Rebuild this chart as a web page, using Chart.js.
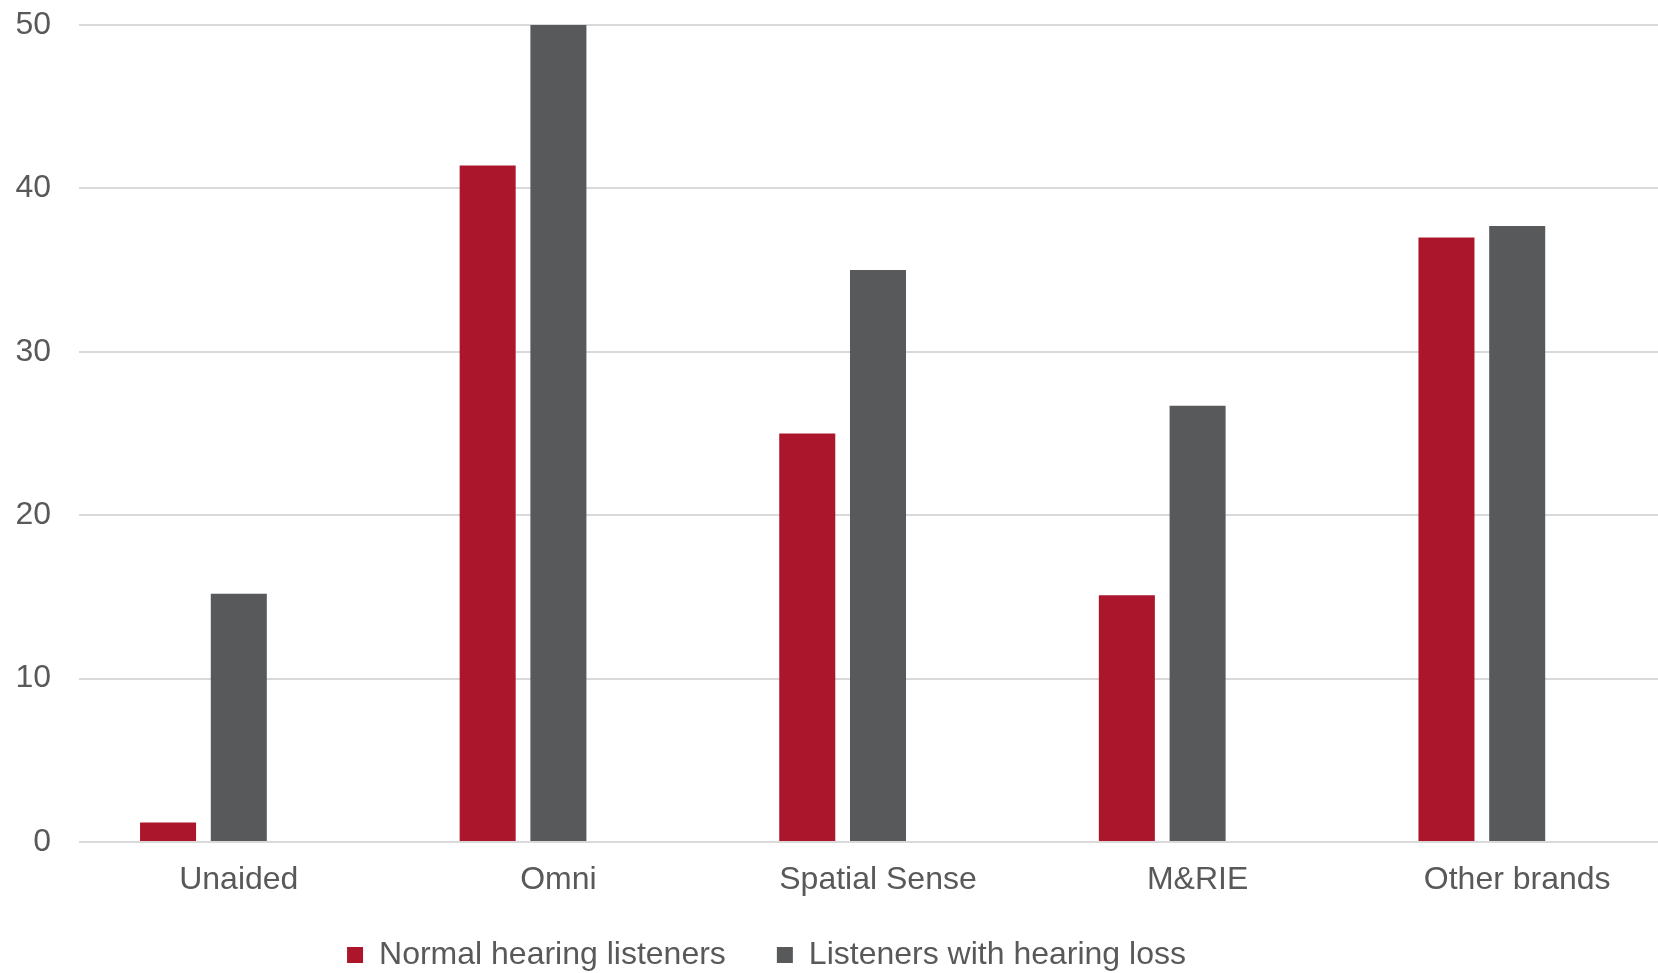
<!DOCTYPE html>
<html>
<head>
<meta charset="utf-8">
<script src="https://cdn.jsdelivr.net/npm/chart.js@4"></script>
<style>
  html, body { margin: 0; padding: 0; background: #fff; overflow: hidden; }
  canvas { display: block; }
</style>
</head>
<body>
<canvas id="grafico" width="1677" height="973"></canvas>
<script>
// Dados
const categorias = ['Unaided', 'Omni', 'Spatial Sense', 'M&RIE', 'Other brands'];
const normalHearing = [1.2, 41.4, 25.0, 15.1, 37.0];
const hearingLoss = [15.2, 50.0, 35.0, 26.7, 37.7];
const nomesSeries = ['Normal hearing listeners', 'Listeners with hearing loss'];

const corTexto = '#595959';
const fonte = "'Liberation Sans', Arial, sans-serif";

// ajusta a posicao da legenda (mais a esquerda e mais perto do eixo)
const legendShift = {
    id: 'legendShift',
    afterLayout(chart) {
        const lg = chart.legend;
        lg.right -= 144;
        lg.top -= 30;
        lg.bottom -= 30;
    }
};

const ctx = document.getElementById('grafico');

new Chart(ctx, {
    type: 'bar',
    data: {
        labels: categorias,
        datasets: [{
            label: nomesSeries[0],
            data: normalHearing,
            backgroundColor: '#ab162d',
            borderWidth: 0
        }, {
            label: nomesSeries[1],
            data: hearingLoss,
            backgroundColor: '#58595b',
            borderWidth: 0
        }, {
            // serie vazia (espaco reservado)
            label: '',
            data: [],
            backgroundColor: 'rgba(0,0,0,0)'
        }]
    },
    options: {
        responsive: false,
        animation: false,
        devicePixelRatio: 1,
        categoryPercentage: 0.664,
        barPercentage: 0.792,
        layout: {
            padding: { top: 25, right: 0, bottom: -38, left: 0 }
        },
        scales: {
            x: {
                grid: { display: false, drawTicks: false },
                border: { display: false },
                ticks: {
                    color: corTexto,
                    padding: 30,
                    font: { family: fonte, size: 32, lineHeight: 0.5 }
                }
            },
            y: {
                min: 0,
                max: 50,
                afterFit(scale) {
                    scale.width = 79;
                    scale.paddingTop = 0;
                    scale.paddingBottom = 0;
                },
                grid: { color: '#d9d9d9', lineWidth: 2, drawTicks: false },
                border: { display: false },
                ticks: {
                    stepSize: 10,
                    color: corTexto,
                    padding: 28,
                    font: { family: fonte, size: 32 }
                }
            }
        },
        plugins: {
            tooltip: { enabled: false },
            legend: {
                position: 'bottom',
                labels: {
                    color: corTexto,
                    boxWidth: 16,
                    boxHeight: 16,
                    padding: 51,
                    font: { family: fonte, size: 32 },
                    filter: item => item.text !== ''
                }
            }
        }
    },
    plugins: [legendShift]
});
</script>
</body>
</html>
